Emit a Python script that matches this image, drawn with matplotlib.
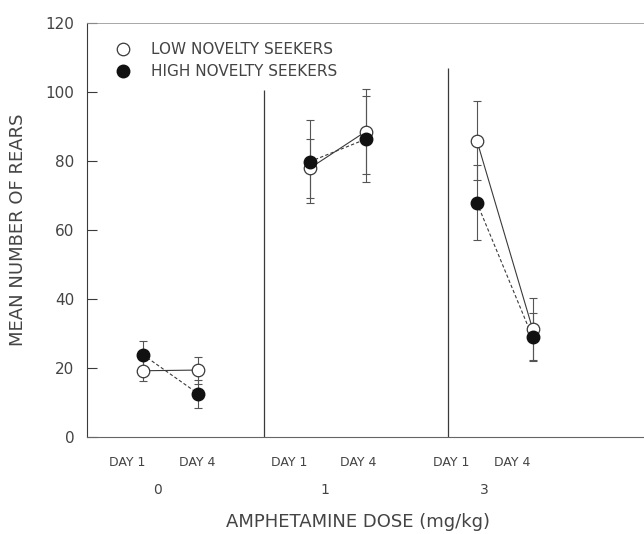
import matplotlib.pyplot as plt
from matplotlib.lines import Line2D

plt.rcParams["font.family"] = ["DejaVu Sans"]

doses = ["0", "1", "3"]
days = ["DAY 1", "DAY 4"]

# mean rears, order: dose 0 day1/day4, dose 1 day1/day4, dose 3 day1/day4
low_mean = [19.2, 19.4, 77.9, 88.5, 85.9, 31.3]
low_sem = [3.0, 3.9, 8.5, 12.3, 11.5, 9.1]
high_mean = [23.9, 12.5, 79.8, 86.3, 67.9, 28.9]
high_sem = [4.0, 4.0, 12.0, 12.4, 10.9, 7.0]

# layout
xpos = [1, 2, 4, 5, 7, 8]
day_label_x = [0.73, 1.97, 3.63, 4.87, 6.53, 7.63]
dose_label_x = [1.26, 4.27, 7.13]
sep_x = [3.17, 6.48]
sep_top = [100.6, 107]

ink = "#3a3a3a"
fig = plt.figure(figsize=(6.44, 5.34), dpi=100)
ax = fig.add_axes([87 / 644, 97 / 534, 1 - 87 / 644, 414 / 534])

for g in range(3):
    i = slice(2 * g, 2 * g + 2)
    ax.errorbar(xpos[i], low_mean[i], yerr=low_sem[i], fmt="none", ecolor="#555555",
                elinewidth=0.8, capsize=3, capthick=0.8, zorder=2)
    ax.errorbar(xpos[i], high_mean[i], yerr=high_sem[i], fmt="none", ecolor="#555555",
                elinewidth=0.8, capsize=3, capthick=0.8, zorder=2)
    ax.plot(xpos[i], low_mean[i], color=ink, lw=0.8, ls="-", zorder=3)
    ax.plot(xpos[i], high_mean[i], color=ink, lw=0.8, ls=(0, (3, 2)), zorder=3)
    ax.plot(xpos[i], low_mean[i], "o", ms=9, mfc="white", mec=ink, mew=0.9, ls="none", zorder=4)
    ax.plot(xpos[i], high_mean[i], "o", ms=9, mfc="#111111", mec="#111111", ls="none", zorder=5)

for x, top in zip(sep_x, sep_top):
    ax.vlines(x, 0, top, color=ink, lw=0.9)

ax.set_xlim(0, 10)
ax.set_ylim(0, 120)
ax.set_yticks(range(0, 121, 20))
ax.tick_params(axis="y", direction="in", length=7, width=0.8, pad=9,
               labelsize=11, labelcolor="#444444", color=ink)
ax.set_xticks(day_label_x)
ax.set_xticklabels(days * 3)
ax.tick_params(axis="x", length=0, pad=14, labelsize=9, labelcolor="#444444")
for x, d in zip(dose_label_x, doses):
    ax.text(x, -15.4, d, ha="center", va="center", fontsize=10, color="#444444")

ax.set_xlabel("AMPHETAMINE DOSE (mg/kg)", fontsize=13, color="#444444")
ax.xaxis.set_label_coords(0.4865, -0.184)
ax.set_ylabel("MEAN NUMBER OF REARS", fontsize=13, color="#444444")
ax.yaxis.set_label_coords(-0.108, 0.5)

ax.spines["right"].set_visible(False)
ax.spines["left"].set_color(ink)
ax.spines["bottom"].set_color("#666666")
ax.spines["top"].set_color("#999999")
ax.spines["top"].set_linewidth(0.6)

handles = [
    Line2D([], [], marker="o", ls="none", ms=9, mfc="white", mec=ink, mew=0.9),
    Line2D([], [], marker="o", ls="none", ms=9, mfc="#111111", mec="#111111"),
]
ax.legend(handles, ["LOW NOVELTY SEEKERS", "HIGH NOVELTY SEEKERS"], loc="upper left",
          bbox_to_anchor=(0.027, 0.987), frameon=False, fontsize=11, handlelength=1,
          handletextpad=1.3, labelspacing=0.45, labelcolor="#444444")

fig.savefig("out.png", dpi=100)
